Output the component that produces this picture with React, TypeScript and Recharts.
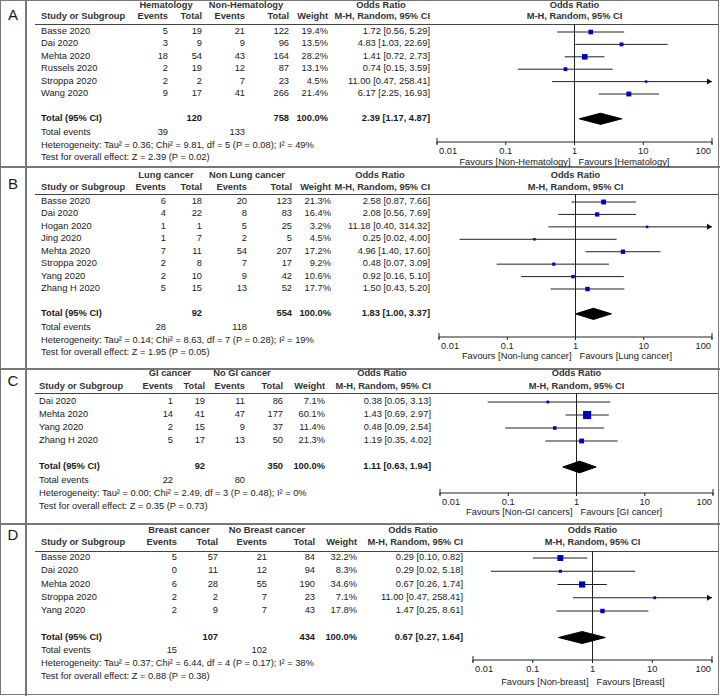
import React from 'react';
import { ScatterChart, Scatter, XAxis, YAxis, ReferenceLine } from 'recharts';

const font = '"Liberation Sans", Arial, sans-serif';
const FS = 9.3;

// A: hematology vs non-hematology
const studiesA = ['Basse 2020', 'Dai 2020', 'Mehta 2020', 'Russels 2020', 'Stroppa 2020', 'Wang 2020'];
const ev1A = [5, 3, 18, 2, 2, 9];
const tot1A = [19, 9, 54, 19, 2, 17];
const ev2A = [21, 9, 43, 12, 7, 41];
const tot2A = [122, 96, 164, 87, 23, 266];
const weightA = [19.4, 13.5, 28.2, 13.1, 4.5, 21.4];
const orA = [1.72, 4.83, 1.41, 0.74, 11.0, 6.17];
const loA = [0.56, 1.03, 0.72, 0.15, 0.47, 2.25];
const hiA = [5.29, 22.69, 2.73, 3.59, 258.41, 16.93];
const pooledA = [2.39, 1.17, 4.87];
const totalsA = [120, 758];
const totalEventsA = [39, 133];

// B: lung cancer
const studiesB = ['Basse 2020', 'Dai 2020', 'Hogan 2020', 'Jing 2020', 'Mehta 2020', 'Stroppa 2020', 'Yang 2020', 'Zhang H 2020'];
const ev1B = [6, 4, 1, 1, 7, 2, 2, 5];
const tot1B = [18, 22, 1, 7, 11, 8, 10, 15];
const ev2B = [20, 8, 5, 2, 54, 7, 9, 13];
const tot2B = [123, 83, 25, 5, 207, 17, 42, 52];
const weightB = [21.3, 16.4, 3.2, 4.5, 17.2, 9.2, 10.6, 17.7];
const orB = [2.58, 2.08, 11.18, 0.25, 4.96, 0.48, 0.92, 1.5];
const loB = [0.87, 0.56, 0.4, 0.02, 1.4, 0.07, 0.16, 0.43];
const hiB = [7.66, 7.69, 314.32, 4.0, 17.6, 3.09, 5.1, 5.2];
const pooledB = [1.83, 1.0, 3.37];
const totalsB = [92, 554];
const totalEventsB = [28, 118];

// C: GI cancer
const studiesC = ['Dai 2020', 'Mehta 2020', 'Yang 2020', 'Zhang H 2020'];
const ev1C = [1, 14, 2, 5];
const tot1C = [19, 41, 15, 17];
const ev2C = [11, 47, 9, 13];
const tot2C = [86, 177, 37, 50];
const weightC = [7.1, 60.1, 11.4, 21.3];
const orC = [0.38, 1.43, 0.48, 1.19];
const loC = [0.05, 0.69, 0.09, 0.35];
const hiC = [3.13, 2.97, 2.54, 4.02];
const pooledC = [1.11, 0.63, 1.94];
const totalsC = [92, 350];
const totalEventsC = [22, 80];

// D: breast cancer
const studiesD = ['Basse 2020', 'Dai 2020', 'Mehta 2020', 'Stroppa 2020', 'Yang 2020'];
const ev1D = [5, 0, 6, 2, 2];
const tot1D = [57, 11, 28, 2, 9];
const ev2D = [21, 12, 55, 7, 7];
const tot2D = [84, 94, 190, 23, 43];
const weightD = [32.2, 8.3, 34.6, 7.1, 17.8];
const orD = [0.29, 0.29, 0.67, 11.0, 1.47];
const loD = [0.1, 0.02, 0.26, 0.47, 0.25];
const hiD = [0.82, 5.18, 1.74, 258.41, 8.61];
const pooledD = [0.67, 0.27, 1.64];
const totalsD = [107, 434];
const totalEventsD = [15, 102];

const ticks = [0.01, 0.1, 1, 10, 100];
const tickLabels = ['0.01', '0.1', '1', '10', '100'];

const panels = [
  {
    letter: 'A', g1: 'Hematology', g2: 'Non-Hematology',
    favL: 'Favours [Non-Hematology]', favR: 'Favours [Hematology]',
    studies: studiesA, ev1: ev1A, tot1: tot1A, ev2: ev2A, tot2: tot2A, weight: weightA,
    or: orA, lo: loA, hi: hiA, pooled: pooledA, totals: totalsA, totalEvents: totalEventsA,
    het: 'Heterogeneity: Tau² = 0.36; Chi² = 9.81, df = 5 (P = 0.08); I² = 49%',
    test: 'Test for overall effect: Z = 2.39 (P = 0.02)',
    lay: { letterY: 14, groupY: 6, headY: 17, lineY: 24, rowTop: 32, rowStep: 12.4, axisY: 142, favY: 163, cols: [41, 168, 202, 245, 289, 328, 430], g1x: 166, g2x: 246, mhx: 381, plotL: 437, plotR: 712 },
  },
  {
    letter: 'B', g1: 'Lung cancer', g2: 'Non Lung cancer',
    favL: 'Favours [Non-lung cancer]', favR: 'Favours [Lung cancer]',
    studies: studiesB, ev1: ev1B, tot1: tot1B, ev2: ev2B, tot2: tot2B, weight: weightB,
    or: orB, lo: loB, hi: hiB, pooled: pooledB, totals: totalsB, totalEvents: totalEventsB,
    het: 'Heterogeneity: Tau² = 0.14; Chi² = 8.63, df = 7 (P = 0.28); I² = 19%',
    test: 'Test for overall effect: Z = 1.95 (P = 0.05)',
    lay: { letterY: 183, groupY: 176, headY: 188, lineY: 194, rowTop: 202, rowStep: 12.43, axisY: 337, favY: 357, cols: [41, 166, 202, 247, 292, 331, 430], g1x: 166, g2x: 247, mhx: 380, plotL: 439, plotR: 712 },
  },
  {
    letter: 'C', g1: 'GI cancer', g2: 'No GI cancer',
    favL: 'Favours [Non-GI cancers]', favR: 'Favours [GI cancer]',
    studies: studiesC, ev1: ev1C, tot1: tot1C, ev2: ev2C, tot2: tot2C, weight: weightC,
    or: orC, lo: loC, hi: hiC, pooled: pooledC, totals: totalsC, totalEvents: totalEventsC,
    het: 'Heterogeneity: Tau² = 0.00; Chi² = 2.49, df = 3 (P = 0.48); I² = 0%',
    test: 'Test for overall effect: Z = 0.35 (P = 0.73)',
    lay: { letterY: 380, groupY: 373.5, headY: 387, lineY: 393, rowTop: 402, rowStep: 13, axisY: 493, favY: 513, cols: [39, 173, 205, 245, 283, 325, 431], g1x: 170, g2x: 242, mhx: 382, plotL: 440, plotR: 713 },
  },
  {
    letter: 'D', g1: 'Breast cancer', g2: 'No Breast cancer',
    favL: 'Favours [Non-breast]', favR: 'Favours [Breast]',
    studies: studiesD, ev1: ev1D, tot1: tot1D, ev2: ev2D, tot2: tot2D, weight: weightD,
    or: orD, lo: loD, hi: hiD, pooled: pooledD, totals: totalsD, totalEvents: totalEventsD,
    het: 'Heterogeneity: Tau² = 0.37; Chi² = 6.44, df = 4 (P = 0.17); I² = 38%',
    test: 'Test for overall effect: Z = 0.88 (P = 0.38)',
    lay: { letterY: 534, groupY: 531, headY: 543, lineY: 551, rowTop: 558, rowStep: 13.25, axisY: 660, favY: 683, cols: [41, 177, 218, 267, 315, 357, 463], g1x: 179, g2x: 267, mhx: 413, plotL: 473, plotR: 712 },
  },
];

const dividers = [167, 369, 524];

function T({ x, y, a = 'start', b = false, size = FS, color = '#1a1a1a', children }: any) {
  const tx = a === 'end' ? '-100%' : a === 'middle' ? '-50%' : '0';
  return (
    <div
      style={{
        position: 'absolute', left: x, top: y, transform: `translate(${tx}, -50%)`,
        whiteSpace: 'nowrap', fontSize: size, lineHeight: 1, fontWeight: b ? 'bold' : 'normal', color,
      }}
    >
      {children}
    </div>
  );
}

const fmt = (v: number) => v.toFixed(2);
const ci = (o: number, l: number, h: number) => `${fmt(o)} [${fmt(l)}, ${fmt(h)}]`;

const Box = (props: any) => {
  const { cx, cy, payload } = props;
  const s = Math.max(2.5, Math.sqrt(payload.w) * 1.05);
  return <rect x={cx - s / 2} y={cy - s / 2} width={s} height={s} fill="#0000c0" />;
};
const Arrow = (props: any) => {
  const { cx, cy } = props;
  return <path d={`M${cx},${cy} L${cx - 5},${cy - 3} L${cx - 5},${cy + 3} Z`} fill="#111" />;
};
const Empty = () => <g />;

const AxisTick = (props: any) => {
  const { x, y, index } = props;
  const last = index === ticks.length - 1;
  const anchor = index === 0 ? 'start' : last ? 'end' : 'middle';
  const dx = index === 0 ? 2 : last ? -1 : 0;
  return (
    <g>
      {(index === 0 || last) && <line x1={x} x2={x} y1={y - 9} y2={y - 3} stroke="#222" />}
      <text x={x + dx} y={y} dy="0.75em" textAnchor={anchor} fontSize={FS} fontFamily={font} fill="#1a1a1a">
        {tickLabels[index]}
      </text>
    </g>
  );
};

function Forest({ p }: any) {
  const L = p.lay;
  const n = p.studies.length;
  const totalRow = n + 1;
  const xMax = ticks[ticks.length - 1];
  const points = p.studies.map((_: string, i: number) => ({ x: p.or[i], y: i, w: p.weight[i] }));
  const arrows = p.hi.map((h: number, i: number) => ({ h, y: i })).filter((r: any) => r.h > xMax).map((r: any) => ({ x: xMax, y: r.y }));
  const dh = 0.45;
  const diamond = [
    { x: p.pooled[1], y: totalRow },
    { x: p.pooled[0], y: totalRow - dh },
    { x: p.pooled[2], y: totalRow },
    { x: p.pooled[0], y: totalRow + dh },
    { x: p.pooled[1], y: totalRow },
  ];
  const pad = 14;
  const axisH = 16;
  const width = L.plotR - L.plotL + pad * 2;
  const height = L.axisY - L.lineY + axisH;
  const yTop = (L.lineY - L.rowTop) / L.rowStep;
  const yBot = (L.axisY - L.rowTop) / L.rowStep;
  return (
    <div style={{ position: 'absolute', left: L.plotL - pad, top: L.lineY }}>
      <ScatterChart width={width} height={height} margin={{ top: 0, right: pad, bottom: 0, left: pad }}>
        <XAxis
          type="number" dataKey="x" scale="log" domain={[0.01, 100]} allowDataOverflow
          ticks={ticks} tick={<AxisTick />} tickSize={3} height={axisH}
          axisLine={{ stroke: '#222' }} tickLine={{ stroke: '#222' }} interval={0}
        />
        <YAxis type="number" dataKey="y" domain={[yTop, yBot]} reversed hide allowDataOverflow />
        <ReferenceLine x={1} stroke="#222" strokeWidth={1} />
        {p.studies.map((s: string, i: number) => (
          <Scatter
            key={s}
            data={[{ x: p.lo[i], y: i }, { x: Math.min(p.hi[i], xMax), y: i }]}
            line={{ stroke: '#222', strokeWidth: 1 }}
            lineType="joint"
            shape={<Empty />}
            isAnimationActive={false}
          />
        ))}
        <Scatter data={arrows} shape={<Arrow />} isAnimationActive={false} />
        <Scatter data={points} shape={<Box />} isAnimationActive={false} />
        <Scatter
          data={diamond}
          line={{ stroke: '#000', fill: '#000', strokeWidth: 1 }}
          lineType="joint"
          shape={<Empty />}
          isAnimationActive={false}
        />
      </ScatterChart>
    </div>
  );
}

function Panel({ p }: any) {
  const L = p.lay;
  const c = L.cols;
  const ry = (i: number) => L.rowTop + i * L.rowStep;
  const n = p.studies.length;
  const ty = ry(n + 1);
  const mid = (L.plotL + L.plotR) / 2;
  return (
    <>
      <T x={13} y={L.letterY} a="middle" size={15}>{p.letter}</T>
      <T x={L.g1x} y={L.groupY} a="middle" b color="#333">{p.g1}</T>
      <T x={L.g2x} y={L.groupY} a="middle" b color="#333">{p.g2}</T>
      <T x={L.mhx} y={L.groupY} a="middle" b color="#333">Odds Ratio</T>
      <T x={mid} y={L.groupY} a="middle" b color="#333">Odds Ratio</T>
      <T x={c[0]} y={L.headY} b color="#333">Study or Subgroup</T>
      <T x={c[1]} y={L.headY} a="end" b color="#333">Events</T>
      <T x={c[2]} y={L.headY} a="end" b color="#333">Total</T>
      <T x={c[3]} y={L.headY} a="end" b color="#333">Events</T>
      <T x={c[4]} y={L.headY} a="end" b color="#333">Total</T>
      <T x={c[5]} y={L.headY} a="end" b color="#333">Weight</T>
      <T x={c[6]} y={L.headY} a="end" b color="#333">M-H, Random, 95% CI</T>
      <T x={mid} y={L.headY} a="middle" b color="#333">M-H, Random, 95% CI</T>
      <div style={{ position: 'absolute', left: 35, top: L.lineY, width: 683, height: 1, background: '#444' }} />
      {p.studies.map((s: string, i: number) => (
        <React.Fragment key={s}>
          <T x={c[0]} y={ry(i)}>{s}</T>
          <T x={c[1]} y={ry(i)} a="end">{p.ev1[i]}</T>
          <T x={c[2]} y={ry(i)} a="end">{p.tot1[i]}</T>
          <T x={c[3]} y={ry(i)} a="end">{p.ev2[i]}</T>
          <T x={c[4]} y={ry(i)} a="end">{p.tot2[i]}</T>
          <T x={c[5]} y={ry(i)} a="end">{p.weight[i].toFixed(1)}%</T>
          <T x={c[6]} y={ry(i)} a="end">{ci(p.or[i], p.lo[i], p.hi[i])}</T>
        </React.Fragment>
      ))}
      <T x={c[0]} y={ty} b>Total (95% CI)</T>
      <T x={c[2]} y={ty} a="end" b>{p.totals[0]}</T>
      <T x={c[4]} y={ty} a="end" b>{p.totals[1]}</T>
      <T x={c[5]} y={ty} a="end" b>100.0%</T>
      <T x={c[6]} y={ty} a="end" b>{ci(p.pooled[0], p.pooled[1], p.pooled[2])}</T>
      <T x={c[0]} y={ty + 13.8}>Total events</T>
      <T x={c[1]} y={ty + 13.8} a="end">{p.totalEvents[0]}</T>
      <T x={c[3]} y={ty + 13.8} a="end">{p.totalEvents[1]}</T>
      <T x={c[0]} y={ty + 26.8}>{p.het}</T>
      <T x={c[0]} y={ty + 39.5}>{p.test}</T>
      <T x={mid - 4} y={L.favY} a="end">{p.favL}</T>
      <T x={mid + 4} y={L.favY}>{p.favR}</T>
      <Forest p={p} />
    </>
  );
}

export default function App() {
  return (
    <div
      style={{
        position: 'absolute', left: 0, top: 0, width: 720, height: 696,
        background: '#fff', fontFamily: font, overflow: 'hidden',
      }}
    >
      <div style={{ position: 'absolute', left: 0, top: 0, width: 719, height: 695, boxSizing: 'border-box', border: '1.5px solid #777' }} />
      <div style={{ position: 'absolute', left: 25, top: 0, width: 2, height: 696, background: '#777' }} />
      {dividers.map((y) => (
        <div key={y} style={{ position: 'absolute', left: 0, top: y - 1, width: 720, height: 2, background: '#777' }} />
      ))}
      {panels.map((p) => (
        <Panel key={p.letter} p={p} />
      ))}
    </div>
  );
}
